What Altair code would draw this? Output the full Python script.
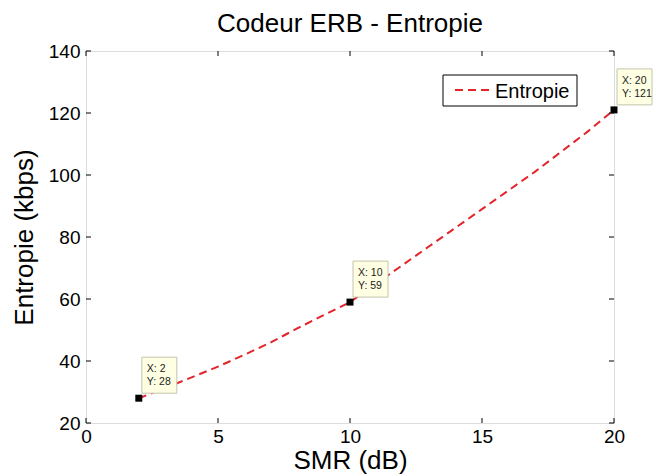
import altair as alt
import pandas as pd

# Entropy of the ERB coder versus signal-to-mask ratio
smr = [2, 3, 4, 5, 6, 7, 8, 9, 10, 11, 12, 13, 14, 15, 16, 17, 18, 19, 20]
entropie = [28, 31.3, 34.7, 38.2, 42, 46, 50.5, 54.8, 59, 65, 71, 77, 83,
            89, 95, 101, 107.5, 114, 121]

# Data tips
tip_x = [2, 10, 20]
tip_y = [28, 59, 121]

x_ticks = [0, 5, 10, 15, 20]
y_ticks = [20, 40, 60, 80, 100, 120, 140]

W, H = 528, 372
RED = "#E3242B"
FONT = "Liberation Sans"

df = pd.DataFrame({"smr": smr, "val": entropie})
tips = pd.DataFrame({
    "smr": tip_x,
    "val": tip_y,
    "lx": [f"X: {v}" for v in tip_x],
    "ly": [f"Y: {v}" for v in tip_y],
})
xt = pd.DataFrame({"smr": x_ticks})
yt = pd.DataFrame({"val": y_ticks})

xs = alt.Scale(domain=[0, 20], nice=False, zero=False)
ys = alt.Scale(domain=[20, 140], nice=False, zero=False)

X = alt.X("smr:Q", scale=xs, title="SMR (dB)",
          axis=alt.Axis(values=x_ticks, ticks=False, domain=False, grid=False,
                        labelFlush=False, labelOverlap=False, labelPadding=4,
                        labelFontSize=19, titleFontSize=26, titlePadding=1,
                        labelColor="black", titleColor="black",
                        labelFont=FONT, titleFont=FONT, titleFontWeight="normal"))
Y = alt.Y("val:Q", scale=ys, title="Entropie (kbps)",
          axis=alt.Axis(values=y_ticks, ticks=False, domain=False, grid=False,
                        labelFlush=False, labelOverlap=False, labelPadding=6,
                        labelFontSize=19, titleFontSize=26, titlePadding=11,
                        labelColor="black", titleColor="black",
                        labelFont=FONT, titleFont=FONT, titleFontWeight="normal"))

line = alt.Chart(df).mark_line(color=RED, strokeWidth=2, strokeDash=[8, 5]).encode(
    x=X, y=Y)

# Inward tick marks on all four sides of the box
tick_style = dict(color="black", strokeWidth=1)
xb = alt.Chart(xt).mark_rule(**tick_style).encode(
    x=X, y=alt.value(H), y2=alt.value(H - 5))
xtop = alt.Chart(xt).mark_rule(**tick_style).encode(
    x=X, y=alt.value(0), y2=alt.value(5))
yl = alt.Chart(yt).mark_rule(**tick_style).encode(
    y=Y, x=alt.value(0), x2=alt.value(5))
yr = alt.Chart(yt).mark_rule(**tick_style).encode(
    y=Y, x=alt.value(W), x2=alt.value(W - 5))

# Data tip markers, boxes and texts
marks = alt.Chart(tips).mark_square(size=49, color="black", opacity=1).encode(
    x=X, y=Y)
boxes = alt.Chart(tips).mark_rect(
    fill="#FFFFE4", stroke="#C4C4AE", strokeWidth=1,
    xOffset=3, x2Offset=38, yOffset=-41, y2Offset=-5).encode(
    x=X, x2="smr:Q", y=Y, y2="val:Q")
tip_x_txt = alt.Chart(tips).mark_text(
    align="left", baseline="alphabetic", dx=8, dy=-26, fontSize=10.5,
    font=FONT, color="#222222").encode(x=X, y=Y, text="lx:N")
tip_y_txt = alt.Chart(tips).mark_text(
    align="left", baseline="alphabetic", dx=8, dy=-13, fontSize=10.5,
    font=FONT, color="#222222").encode(x=X, y=Y, text="ly:N")

# Legend box
leg = pd.DataFrame({"name": ["Entropie"]})
leg_box = alt.Chart(leg).mark_rect(fill="white", stroke="black", strokeWidth=1).encode(
    x=alt.value(357), x2=alt.value(491), y=alt.value(24), y2=alt.value(55))
leg_line = alt.Chart(leg).mark_rule(color=RED, strokeWidth=2, strokeDash=[8, 5]).encode(
    x=alt.value(369), x2=alt.value(405), y=alt.value(39))
leg_txt = alt.Chart(leg).mark_text(
    align="left", baseline="alphabetic", fontSize=20, font=FONT, color="black").encode(
    x=alt.value(409), y=alt.value(47), text="name:N")

chart = alt.layer(
    line, xb, xtop, yl, yr, marks, boxes, tip_x_txt, tip_y_txt,
    leg_box, leg_line, leg_txt,
).properties(
    width=W, height=H,
    title=alt.TitleParams("Codeur ERB - Entropie", fontSize=26, font=FONT,
                          fontWeight="normal", color="black", anchor="middle",
                          frame="group", baseline="bottom", offset=12, dy=33),
    autosize=alt.AutoSizeParams(type="none"),
    padding={"left": 86, "top": 51, "right": 42, "bottom": 53},
).configure_view(stroke="black", strokeWidth=1).configure(background="white")

chart.save("out.html", embed_options={"renderer": "svg", "actions": False})
